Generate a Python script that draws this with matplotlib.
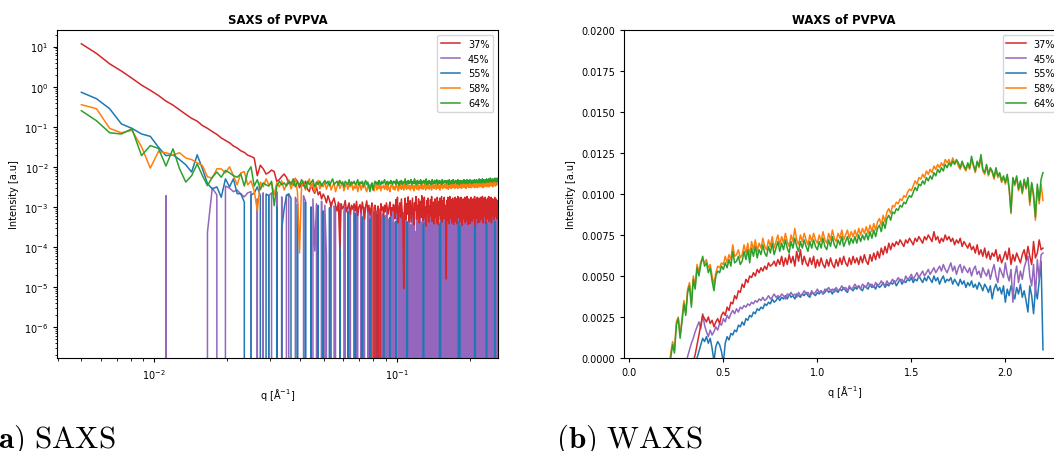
import matplotlib
matplotlib.use("Agg")
import matplotlib.pyplot as plt
import numpy as np
from matplotlib.ticker import LogLocator, NullFormatter, FormatStrFormatter

N = None  # intensity <= 0 after background subtraction

labels = ["37%", "45%", "55%", "58%", "64%"]
colors = ["tab:red", "tab:purple", "tab:blue", "tab:orange", "tab:green"]
saxs_z = [2.2, 2.1, 2.15, 2.3, 2.4]
waxs_z = [2.2, 2.15, 2.1, 2.3, 2.4]

# SAXS: log10(I) * 100, q from 0.005 to 0.26 1/A
saxs_37 = [
    107, 83, 57, 39, 21, 4, -9, -22, -36, -46, -58, -69, -79, -86, -97, -104, -112, -119, -128, -134,
    -140, -148, -153, -160, -164, -171, -174, -178, -222, -196, -205, -218, -214, -208, -212, -236, -232, -224, -218, -226,
    -242, -238, -246, -230, -236, -252, -241, -248, -236, -255, -262, -244, -258, -266, -250, -270, -262, -280, -268, -276,
    -290, -272, -284, -300, -286, -278, -296, -310, -288, -402, -292, -305, -298, -284, -312, -300, -290, -318, -296, -306,
    -292, -310, -286, -322, -300, -294, -315, -288, -305, -330, -298, -285, -312, -296, -320, -304, -290, N, -302, -296,
    -314, N, -298, -320, N, -292, -308, -300, -325, -296, -312, -290, -305, -318, -300, -288, -322, -302, -310, -294,
    -298, -330, -282, -315, -276, -340, -305, -290, -326, -280, -312, -345, -504, -300, -278, -332, -292, -318, -275, -336,
    -300, -284, -338, -310, -278, -322, -345, -290, -308, -274, -330, -296, -318, -280, -340, -302, -286, -326, -272, -312,
    -334, -290, -276, -328, -300, -348, -284, -316, -278, -338, -298, -324, -282, -310, -274, -336, -296, -288, -342, -300,
    -280, -326, -292, -340, -276, -314, -344, -286, -320, -278, -332, -300, -274, -338, -304, -284, -330, -276, -316, -296,
    -326, -480, -284, -334, -276, -310, -342, -290, -274, -328, -302, -282, -340, -296, -278, -318, -344, -286, -312, -276,
    -336, -298, -280, -342, -306, -274, -326, -288, -316, -278, -338, -300, -276, -322, -290, -346, -304, -280, -330, -292,
    -314, -276, -340, -298, -286, -334, -274, -312, -344, -290, -280, -328, -300, -282, -342, -306, -276, -320, -288, -336,
    -300, -280, -330, -292, -316, -274, -344, -304, -282, -328, -290, -312, -276, -340, -298, -286, -322, -278, -338, -302,
    -284, -318, -276, -332, -296, -312, -274, -340, -300, -286, -324, -278, -316, -302, -276, -342, -292, -314, -282, -330,
    -300, -278, -322, -294, -274, -336, -306, -282, -328, -288, -304, -276, -340, -296, -314, -280, -322, -300, -286, -332,
    -282, -306, -276, -324, -296, -314, -280, -304, -290, -330, -284, -300,
]
saxs_45 = [
    N, N, N, N, N, N, N, N, -272, N, N, N, N, N, N, -363, -253, -270, N, -248,
    -253, -262, -258, -268, -275, -265, -262, N, -280, N, -265, N, -272, -265, N, -262, N, -275, N, -270,
    -268, N, N, -276, -290, N, N, -272, -285, N, N, N, -280, -410, -292, N, N, -286, N, -296,
    -420, N, N, -288, N, -298, -305, N, N, -292, N, N, -310, -300, N, N, -296, -318, N, N,
    -305, N, -300, -312, N, N, -308, N, -315, -302, N, N, -310, N, -320, -305, N, N, -312, N,
    -312, N, -335, N, -305, -328, N, -318, N, -345, -322, N, -308, N, -330, N, -312, -352, N, -306,
    N, -338, N, -310, -325, -342, N, -318, N, -356, -322, N, -314, N, -306, N, -335, -348, N, -320,
    -310, N, -345, N, -318, N, -330, -308, N, -362, N, -314, N, -328, -340, -318, N, -338, N, -306,
    -316, -344, N, -310, N, -350, N, -312, N, -334, -308, N, -326, N, -314, -352, N, -310, N, -338,
    N, -306, N, -346, -320, N, -312, N, -358, N, -310, -334, -318, N, -314, N, -308, N, -342, -312,
    -336, N, -310, N, -350, -314, N, -328, N, -318, N, -312, -348, N, -310, N, -336, N, -306, -326,
    N, -344, N, -318, N, -310, -352, -330, N, -312, N, -316, N, -338, -318, N, -314, N, -350, -310,
    -316, N, -342, N, -318, -308, N, -360, N, -314, N, -330, -318, N, -312, N, -346, -306, -322, N,
    N, -312, N, -346, -310, N, -328, N, -314, -338, N, -320, N, -352, N, -316, -310, N, -338, N,
    -314, N, -308, -348, N, -312, N, -336, -318, N, -320, N, -344, N, -306, -328, N, -312, N, -346,
    -310, N, -338, N, -312, -358, N, -316, N, -324, -340, N, -320, N, -312, N, -348, -306, N, -324,
    N, -310, N, -346, -312, N, -338, N, -308, -330, N, -312,
]
saxs_55 = [
    -14, -30, -55, -93, -104, -118, -124, -151, -172, -170, -182, -195, -213, -170, -205, -242, -255, -250, -276, -230,
    -250, -230, -267, -267, -288, N, -270, -266, -250, -272, N, -268, -272, N, N, -300, N, -355, -305, -272,
    -268, -278, N, N, -292, N, N, N, -288, N, N, -300, N, N, N, -296, N, N, -310, N,
    N, N, -302, N, N, N, N, N, N, -308, N, N, N, N, N, -312, N, N, N, N,
    N, -316, N, N, N, N, N, -325, N, N, N, N, N, N, -330, N, N, N, N, N,
    N, -318, N, N, N, N, N, N, -322, N, N, N, N, N, N, -326, N, N, N, N,
    N, N, -336, N, N, N, N, N, N, N, N, N, N, N, N, N, -338, -342, N, N,
    N, N, N, N, N, N, N, N, N, N, N, N, N, N, N, N, N, N, N, N,
    -345, -340, N, N, N, N, N, N, N, N, N, N, N, N, N, N, N, N, N, N,
    N, N, N, N, N, N, N, N, -345, -350, -338, N, N, N, N, N, N, N, N, N,
    N, N, N, N, N, N, N, N, N, N, N, N, N, N, N, N, N, N, N, N,
    N, N, N, N, N, N, -342, -338, N, -346, N, N, N, N, N, N, N, N, N, N,
    N, N, N, N, N, N, N, N, N, N, N, N, N, N, N, N, N, N, N, N,
    N, N, N, N, N, -340, -336, -344, N, N, N, N, N, N, N, N, N, N, N, N,
    N, N, N, N, N, N, N, N, N, N, N, N, N, N, N, N, N, -338, -344, N,
    N, N, N, N, N, N, N, N, N, N, N, N, N, N, N, N, N, N, N, N,
    N, N, -340, -336, N, N, N, N, N, N, N, N,
]
saxs_58 = [
    -45, -55, -104, -115, -109, -150, -203, -162, -165, -170, -165, -178, -182, -190, -197, -225, -228, -205, -205, -215,
    -200, -222, -245, -215, -212, -245, -235, -260, -309, -238, -250, -230, -245, -240, -270, -240, -250, -235, -258, -245,
    -232, -255, -240, -228, -262, -415, -248, -236, -258, -244, -230, -252, -240, -262, -246, -234, -255, -242, -250, -238,
    -256, -244, -236, -258, -248, -240, -262, -250, -236, -254, -246, -238, -260, -248, -242, -256, -244, -250, -238, -258,
    -248, -254, -240, -262, -250, -244, -258, -246, -252, -240, -256, -262, -248, -244, -258, -250, -242, -256, -260, -248,
    -244, -258, -250, -254, -242, -260, -248, -252, -246, -256, -250, -242, -258, -248, -254, -262, -246, -250, -244, -256,
    -250, -258, -244, -252, -248, -260, -246, -254, -242, -256, -250, -246, -258, -244, -252, -248, -256, -242, -250, -254,
    -246, -258, -250, -244, -254, -248, -260, -246, -252, -242, -256, -250, -244, -258, -248, -252, -246, -254, -250, -242,
    -256, -248, -252, -244, -258, -250, -246, -254, -242, -250, -256, -248, -244, -252, -258, -246, -250, -242, -254, -248,
    -250, -244, -256, -248, -252, -242, -254, -246, -250, -258, -244, -252, -248, -240, -254, -250, -246, -252, -244, -250,
    -246, -254, -242, -250, -248, -256, -244, -252, -240, -250, -246, -254, -248, -242, -252, -246, -250, -240, -254, -248,
    -244, -252, -246, -240, -250, -254, -242, -248, -246, -252, -240, -250, -244, -254, -248, -242, -250, -246, -238, -252,
    -246, -250, -242, -248, -254, -244, -250, -240, -248, -246, -252, -242, -250, -244, -238, -250, -246, -252, -242, -248,
    -244, -250, -240, -248, -246, -252, -242, -238, -250, -244, -248, -240, -252, -246, -242, -250, -238, -248, -244, -250,
    -242, -248, -236, -246, -250, -240, -244, -252, -238, -246, -242, -250, -240, -246, -236, -248, -244, -240, -250, -238,
    -246, -240, -248, -236, -244, -250, -238, -246, -240, -244, -236, -248, -242, -238, -246, -240, -250, -236, -244, -240,
    -246, -238, -244, -236, -248, -240, -234, -246, -238, -244, -236, -242,
]
saxs_64 = [
    -60, -85, -115, -118, -105, -172, -147, -154, -198, -155, -205, -238, -222, -193, -222, -247, -226, -213, -226, -209,
    -215, -222, -226, -218, -248, -213, -200, -248, -232, -257, -240, -245, -248, -236, -297, -248, -236, -245, -240, -248,
    -236, -244, -230, -250, -238, -246, -232, -242, -254, -236, -244, -240, -232, -250, -238, -244, -236, -248, -240, -234,
    -242, -236, -248, -238, -230, -244, -240, -236, -246, -234, -242, -238, -250, -236, -240, -244, -232, -246, -238, -242,
    -236, -244, -240, -232, -246, -238, -242, -236, -248, -240, -234, -244, -238, -250, -262, -246, -240, -258, -244, -236,
    -242, -238, -246, -234, -240, -244, -236, -242, -238, -232, -244, -240, -236, -246, -238, -242, -234, -240, -244, -236,
    -240, -236, -244, -232, -242, -238, -246, -236, -240, -234, -244, -238, -242, -236, -230, -244, -238, -240, -234, -242,
    -236, -240, -232, -244, -238, -236, -242, -230, -240, -238, -244, -234, -240, -236, -242, -238, -232, -244, -236, -240,
    -238, -234, -242, -236, -240, -230, -244, -238, -236, -242, -234, -240, -238, -244, -236, -232, -242, -238, -240, -234,
    -242, -236, -238, -232, -244, -240, -236, -242, -234, -238, -240, -236, -244, -232, -238, -242, -236, -240, -234, -238,
    -236, -242, -238, -234, -240, -236, -244, -232, -238, -240, -236, -242, -234, -240, -238, -232, -242, -236, -238, -240,
    -234, -240, -236, -242, -238, -232, -240, -236, -244, -238, -234, -240, -236, -238, -242, -234, -238, -236, -240, -232,
    -238, -236, -242, -234, -238, -240, -232, -238, -236, -242, -234, -238, -236, -232, -240, -236, -238, -234, -242, -236,
    -234, -238, -236, -240, -232, -238, -236, -234, -240, -236, -232, -238, -236, -240, -234, -236, -238, -230, -236, -240,
    -234, -238, -232, -236, -240, -234, -230, -238, -236, -232, -238, -234, -236, -240, -232, -236, -234, -238, -230, -236,
    -234, -238, -232, -236, -230, -238, -234, -236, -232, -228, -236, -234, -238, -232, -236, -230, -234, -238, -232, -236,
    -230, -236, -232, -228, -236, -234, -230, -238, -232, -236, -228, -234,
]

# WAXS: intensity in units of 1e-4, q from 0.20 to 2.20 1/A
waxs_37 = [
    -40, -36, -33, -30, -28, -25, -22, -20, -17, -14, -11, -9, -6, -4, -2, 2, 8, 14, 20, 26,
    24, 22, 25, 21, 23, 19, 22, 24, 21, 26, 28, 26, 31, 29, 34, 33, 38, 36, 41, 40,
    45, 43, 48, 46, 50, 49, 52, 50, 54, 52, 55, 53, 56, 54, 58, 56, 57, 59, 56, 60,
    57, 62, 56, 61, 57, 63, 58, 62, 56, 65, 59, 66, 57, 62, 58, 56, 61, 57, 62, 55,
    60, 56, 61, 57, 55, 60, 56, 61, 57, 55, 60, 56, 61, 57, 62, 58, 56, 61, 57, 62,
    58, 61, 57, 62, 58, 63, 59, 57, 63, 59, 64, 60, 65, 61, 67, 63, 68, 64, 70, 66,
    70, 68, 71, 69, 72, 70, 68, 72, 70, 73, 71, 69, 73, 71, 74, 72, 70, 74, 72, 75,
    73, 71, 77, 72, 74, 70, 73, 71, 75, 72, 74, 71, 73, 69, 72, 70, 73, 68, 71, 69,
    67, 70, 66, 68, 64, 69, 63, 66, 62, 67, 61, 65, 60, 64, 62, 66, 59, 63, 58, 61,
    65, 60, 67, 57, 63, 59, 64, 61, 58, 63, 66, 60, 68, 62, 57, 71, 61, 64, 72, 66,
    67,
]
waxs_45 = [
    -50, -45, -40, -36, -32, -28, -24, -20, -16, -12, -6, 1, 5, 9, 12, 16, 19, 22, 18, 27,
    20, 16, 13, 17, 14, 16, 19, 17, 21, 20, 24, 22, 26, 24, 27, 29, 27, 30, 28, 31,
    30, 32, 31, 33, 32, 34, 33, 35, 34, 36, 35, 37, 35, 36, 38, 36, 37, 39, 37, 38,
    37, 39, 38, 36, 39, 38, 40, 38, 39, 37, 40, 38, 39, 41, 39, 40, 38, 41, 39, 40,
    42, 40, 41, 39, 42, 41, 43, 41, 42, 40, 43, 41, 42, 44, 42, 43, 41, 44, 42, 43,
    45, 43, 44, 42, 45, 44, 43, 46, 44, 45, 43, 46, 44, 45, 47, 45, 44, 47, 45, 46,
    48, 46, 47, 49, 47, 48, 46, 50, 48, 49, 51, 48, 50, 52, 49, 51, 53, 50, 52, 54,
    51, 53, 55, 52, 54, 56, 53, 57, 54, 52, 55, 58, 53, 56, 51, 55, 57, 52, 56, 54,
    52, 55, 50, 54, 56, 51, 53, 49, 55, 52, 50, 54, 48, 53, 57, 50, 46, 55, 52, 49,
    58, 51, 47, 54, 34, 50, 56, 46, 53, 48, 55, 59, 62, 50, 44, 57, 38, 60, 48, 63,
    64,
]
waxs_55 = [
    -60, -55, -50, -46, -42, -38, -34, -30, -26, -22, -18, -14, -11, -8, -5, -3, 0, 4, 8, 12,
    10, 13, 9, 12, 6, -2, 7, 10, 8, 4, -3, 9, 13, 11, 15, 14, 17, 16, 20, 19,
    22, 20, 24, 23, 26, 25, 28, 27, 30, 29, 31, 30, 33, 32, 34, 33, 36, 34, 35, 37,
    35, 37, 36, 38, 36, 39, 37, 38, 36, 39, 38, 37, 39, 38, 40, 38, 37, 40, 39, 38,
    40, 39, 41, 39, 40, 42, 40, 41, 39, 42, 41, 40, 42, 41, 43, 41, 40, 43, 42, 41,
    43, 42, 44, 42, 41, 44, 43, 42, 45, 43, 44, 42, 45, 43, 44, 46, 43, 45, 44, 46,
    45, 47, 44, 46, 48, 45, 47, 46, 48, 47, 49, 46, 48, 47, 50, 48, 46, 49, 47, 50,
    48, 46, 50, 47, 49, 45, 48, 50, 46, 48, 47, 49, 45, 48, 46, 44, 48, 45, 47, 43,
    46, 44, 47, 43, 45, 42, 46, 44, 41, 45, 43, 40, 44, 36, 42, 45, 41, 43, 39, 44,
    34, 42, 38, 44, 40, 36, 43, 39, 45, 37, 41, 35, 28, 44, 38, 27, 42, 36, 47, 59,
    5,
]
waxs_58 = [
    -22, -8, 3, 10, 5, 22, 25, 14, 24, 35, 28, 42, 46, 33, 50, 44, 57, 52, 59, 60,
    58, 60, 55, 57, 50, 45, 52, 56, 55, 58, 57, 62, 58, 63, 60, 69, 62, 63, 66, 61,
    63, 69, 64, 70, 62, 71, 66, 72, 65, 70, 67, 73, 68, 66, 72, 68, 74, 67, 71, 75,
    69, 74, 70, 76, 71, 68, 75, 71, 79, 72, 69, 75, 71, 76, 72, 69, 75, 71, 76, 72,
    70, 75, 71, 77, 72, 70, 76, 72, 78, 73, 71, 76, 73, 78, 72, 75, 78, 73, 77, 74,
    78, 74, 79, 75, 79, 76, 80, 76, 81, 77, 82, 78, 83, 85, 81, 87, 83, 89, 91, 88,
    93, 92, 95, 94, 97, 96, 99, 98, 101, 103, 102, 105, 108, 106, 110, 109, 112, 110, 114, 112,
    115, 113, 117, 115, 118, 116, 119, 117, 121, 119, 121, 118, 122, 119, 120, 117, 115, 119, 116, 114,
    118, 115, 121, 117, 113, 119, 116, 122, 114, 112, 117, 111, 115, 113, 109, 115, 110, 112, 107, 110,
    106, 111, 103, 88, 109, 105, 110, 102, 107, 100, 108, 103, 109, 93, 106, 98, 84, 104, 94, 106,
    96,
]
waxs_64 = [
    -25, -10, 0, 8, 3, 20, 24, 12, 22, 33, 26, 40, 44, 31, 48, 42, 55, 50, 57, 62,
    56, 58, 52, 55, 47, 41, 50, 53, 52, 56, 54, 58, 55, 60, 56, 65, 58, 59, 62, 57,
    59, 65, 60, 66, 58, 67, 62, 68, 61, 66, 63, 69, 64, 62, 68, 64, 70, 63, 67, 71,
    65, 70, 66, 72, 67, 64, 71, 67, 73, 68, 65, 71, 67, 72, 68, 65, 71, 67, 72, 68,
    66, 71, 67, 73, 68, 66, 72, 68, 74, 69, 67, 72, 69, 74, 68, 71, 74, 69, 73, 70,
    74, 70, 75, 71, 75, 72, 76, 72, 77, 73, 78, 74, 79, 81, 77, 83, 79, 85, 87, 84,
    89, 88, 91, 90, 93, 92, 95, 94, 97, 99, 98, 101, 104, 102, 106, 105, 108, 106, 110, 108,
    111, 109, 113, 111, 115, 113, 116, 114, 118, 116, 119, 117, 120, 118, 121, 119, 116, 120, 117, 115,
    119, 116, 123, 118, 114, 120, 117, 124, 115, 113, 118, 112, 116, 114, 110, 116, 111, 113, 108, 111,
    107, 112, 104, 89, 110, 106, 111, 103, 108, 101, 109, 104, 110, 95, 107, 100, 86, 106, 96, 109,
    113,
]

saxs = [saxs_37, saxs_45, saxs_55, saxs_58, saxs_64]
waxs = [waxs_37, waxs_45, waxs_55, waxs_58, waxs_64]


def to_intensity(logs):
    # non-positive values get clipped by the log axis
    return np.array([0.0 if v is None else 10 ** (v / 100) for v in logs])


fig = plt.figure(figsize=(10.54, 4.52), dpi=100)
ax1 = fig.add_axes([0.0544, 0.2058, 0.4184, 0.7257])
ax2 = fig.add_axes([0.5923, 0.2058, 0.4172, 0.7257])

for vals, lab, col, z in zip(saxs, labels, colors, saxs_z):
    q = np.linspace(0.005, 0.26, len(vals))
    ax1.plot(q, to_intensity(vals), color=col, lw=1.1, label=lab, zorder=z)
ax1.set_xscale("log")
ax1.set_yscale("log")
ax1.set_xlim(3.98e-3, 0.262)
ax1.set_ylim(1.7e-7, 26)
ax1.yaxis.set_major_locator(LogLocator(base=10, numticks=20))
ax1.yaxis.set_minor_locator(LogLocator(base=10, subs=np.arange(2, 10), numticks=20))
ax1.yaxis.set_minor_formatter(NullFormatter())
ax1.set_title("SAXS of PVPVA", fontsize=8.4, fontweight="bold", pad=5)
ax1.set_xlabel("q [Å$^{-1}$]", fontsize=7)
ax1.set_ylabel("Intensity [a.u]", fontsize=7)
ax1.legend(loc="upper right", fontsize=7)

for vals, lab, col, z in zip(waxs, labels, colors, waxs_z):
    q = np.linspace(0.20, 2.20, len(vals))
    ax2.plot(q, np.array(vals) * 1e-4, color=col, lw=1.1, label=lab, zorder=z)
ax2.set_xlim(-0.027, 2.312)
ax2.set_ylim(0, 0.02)
ax2.set_yticks(np.arange(0, 0.0201, 0.0025))
ax2.yaxis.set_major_formatter(FormatStrFormatter("%.4f"))
ax2.set_xticks([0.0, 0.5, 1.0, 1.5, 2.0])
ax2.set_title("WAXS of PVPVA", fontsize=8.4, fontweight="bold", pad=5)
ax2.set_xlabel("q [Å$^{-1}$]", fontsize=7)
ax2.set_ylabel("Intensity [a.u]", fontsize=7)
ax2.legend(loc="upper right", fontsize=7)

for ax in (ax1, ax2):
    ax.tick_params(which="major", labelsize=7, length=3, width=0.8)
    ax.tick_params(which="minor", length=1.8, width=0.6)

# subfigure captions, LaTeX style
fig.text(-0.0135, 0.01, r"$\mathbf{(a)}\ \mathrm{SAXS}$", fontsize=22.4, math_fontfamily="cm", va="baseline")
fig.text(0.5275, 0.01, r"$\mathbf{(b)}\ \mathrm{WAXS}$", fontsize=22.4, math_fontfamily="cm", va="baseline")

fig.savefig("out.png", dpi=100)
